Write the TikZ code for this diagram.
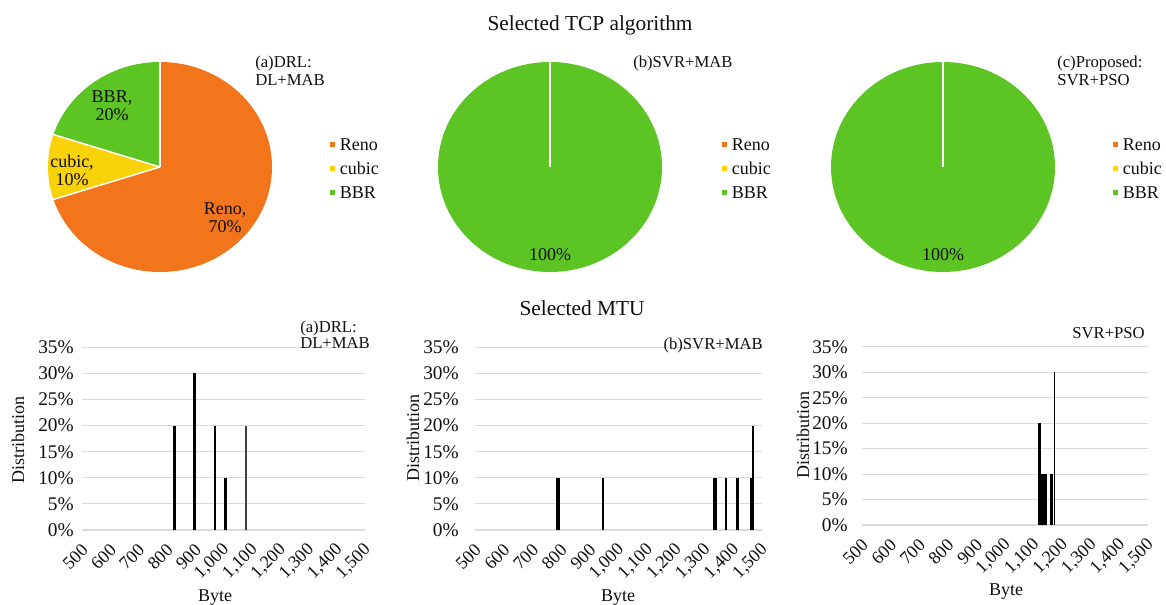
\documentclass[tikz,border=0pt]{standalone}
\usepackage{fontspec}
\setmainfont{Liberation Serif}
\definecolor{reno}{RGB}{242,117,27}
\definecolor{cubicc}{RGB}{250,210,10}
\definecolor{bbr}{RGB}{92,196,35}
\definecolor{gridc}{RGB}{218,218,218}
\definecolor{txt}{RGB}{15,15,15}
\newcommand\mtuchart[6]{% #1 name #2 xl #3 xr #4 y0 #5 px per % #6 ylabel right x
  \foreach \p in {0,5,...,35}{
    \draw[gridline] (#2,{#4-#5*\p}) -- (#3,{#4-#5*\p});
    \node[ytick] (#1y\p) at (#6,{#4-#5*\p}) {\p\%};
  }
  \foreach \v [count=\i from 0] in {500,600,700,800,900,{1,000},{1,100},{1,200},{1,300},{1,400},{1,500}}{
    \node[xtick] (#1x\i) at ({#2+(#3-#2)*\i/10+3},{#4+17}) {\v};
  }
}
\newcommand\mtubar[6][black]{\fill[#1] ({#2-#3/2},#4) rectangle ({#2+#3/2},{#4-#5*#6});}
\begin{document}
\begin{tikzpicture}[x=0.75pt,y=-0.75pt,
  ttl/.style={font=\fontsize{16}{19}\selectfont, text=txt, inner sep=0pt},
  legtxt/.style={font=\fontsize{13.5}{15}\selectfont, text=txt, anchor=west, inner sep=0pt},
  slicelab/.style={font=\fontsize{13.5}{13.5}\selectfont, text=txt, align=center, inner sep=0pt},
  note/.style={font=\fontsize{12.5}{13}\selectfont, text=txt, align=left, inner sep=0pt},
  cnote/.style={font=\fontsize{12.5}{10.5}\selectfont, text=txt, align=left, inner sep=0pt},
  ytick/.style={font=\fontsize{14.5}{16}\selectfont, text=txt, anchor=east, inner sep=0pt},
  xtick/.style={font=\fontsize{13.5}{15}\selectfont, text=txt, anchor=east, rotate=45, inner sep=0pt},
  axtitle/.style={font=\fontsize{13.5}{15}\selectfont, text=txt, inner sep=0pt},
  gridline/.style={draw=gridc, line width=0.8pt},
  sepline/.style={draw=white, line width=1.1pt},
  legbox/.style={inner sep=0pt, minimum size=3.75pt}]
\useasboundingbox (0,0) rectangle (1166,605);
\fill[white] (0,0) rectangle (1166,605);

% ---------- titles ----------
\node[ttl] (t1) at (590,25) {Selected TCP algorithm};
\node[ttl] (t2) at (582,308) {Selected MTU};

% ---------- pie (a) ----------
\begin{scope}[shift={(160,167)},x=0.75pt,y=0.75pt]
  \coordinate (pa) at (0,0);
  \fill[reno] (0,0) -- (90:112 and 105) arc[start angle=90,end angle=-162,x radius=112,y radius=105] -- cycle;
  \fill[cubicc] (0,0) -- (198:112 and 105) arc[start angle=198,end angle=162,x radius=112,y radius=105] -- cycle;
  \fill[bbr] (0,0) -- (162:112 and 105) arc[start angle=162,end angle=90,x radius=112,y radius=105] -- cycle;
  \draw[sepline] (pa) -- (90:112 and 105);
  \draw[sepline] (pa) -- (198:112 and 105);
  \draw[sepline] (pa) -- (162:112 and 105);
\end{scope}
\node[slicelab] (la1) at (112,106) {BBR,\\20\%};
\node[slicelab] (la2) at (72,170) {cubic,\\10\%};
\node[slicelab] (la3) at (225,218) {Reno,\\70\%};
\node[note, anchor=north west] (na) at (255,56) {(a)DRL:\\DL+MAB};

% ---------- pie (b) ----------
\begin{scope}[shift={(550,167)},x=0.75pt,y=0.75pt]
  \coordinate (pb) at (0,0);
  \fill[bbr] (0,0) ellipse[x radius=112,y radius=105];
  \draw[sepline] (pb) -- (90:112 and 105);
\end{scope}
\node[slicelab] (lb1) at (550,255) {100\%};
\node[note, anchor=west] (nb) at (633,63) {(b)SVR+MAB};

% ---------- pie (c) ----------
\begin{scope}[shift={(943,167)},x=0.75pt,y=0.75pt]
  \coordinate (pc) at (0,0);
  \fill[bbr] (0,0) ellipse[x radius=112,y radius=105];
  \draw[sepline] (pc) -- (90:112 and 105);
\end{scope}
\node[slicelab] (lc1) at (943,255) {100\%};
\node[note, anchor=north west] (nc) at (1057,56) {(c)Proposed:\\SVR+PSO};

% ---------- legends ----------
\foreach \lx/\nm in {332.5/A,724.5/B,1115.5/C}{
  \foreach \n/\c/\y in {Reno/reno/144.5,cubic/cubicc/168.5,BBR/bbr/192.5}{
    \node[legbox, fill=\c] (box\nm\n) at (\lx,\y) {};
    \node[legtxt] (leg\nm\n) at ({\lx+7},\y) {\n};
  }
}

% ---------- MTU chart (a) ----------
\mtuchart{ca}{82}{365}{530}{5.22}{74}
\mtubar{174}{3}{530}{5.22}{20}
\mtubar{194}{3}{530}{5.22}{30}
\mtubar{215}{2}{530}{5.22}{20}
\mtubar{225}{3}{530}{5.22}{10}
\mtubar[black!75]{246}{1.6}{530}{5.22}{20}
\node[axtitle, rotate=90] (dista) at (18,440) {Distribution};
\node[axtitle] (bytea) at (215,598) {Byte};
\node[cnote, anchor=north west] (ma) at (300,321) {(a)DRL:\\DL+MAB};

% ---------- MTU chart (b) ----------
\mtuchart{cb}{475}{762}{530}{5.22}{459}
\mtubar{558}{4}{530}{5.22}{10}
\mtubar{603}{2.7}{530}{5.22}{10}
\mtubar{715}{4}{530}{5.22}{10}
\mtubar{726}{1.5}{530}{5.22}{10}
\mtubar{737}{3}{530}{5.22}{10}
\mtubar{751.5}{4}{530}{5.22}{10}
\mtubar{753}{2}{530}{5.22}{20}
\node[axtitle, rotate=90] (distb) at (413,438) {Distribution};
\node[axtitle] (byteb) at (618,598) {Byte};
\node[cnote, anchor=east] (mb) at (763,345) {(b)SVR+MAB};

% ---------- MTU chart (c) ----------
\mtuchart{cc}{862}{1148}{525}{5.09}{848}
\mtubar{1042.5}{9}{525}{5.09}{10}
\mtubar{1039.5}{3}{525}{5.09}{20}
\mtubar{1051.5}{3}{525}{5.09}{10}
\mtubar{1054.5}{1.2}{525}{5.09}{30}
\node[axtitle, rotate=90] (distc) at (803,435) {Distribution};
\node[axtitle] (bytec) at (1006,592) {Byte};
\node[cnote, anchor=east] (mc) at (1145,333) {SVR+PSO};
\end{tikzpicture}
\end{document}
